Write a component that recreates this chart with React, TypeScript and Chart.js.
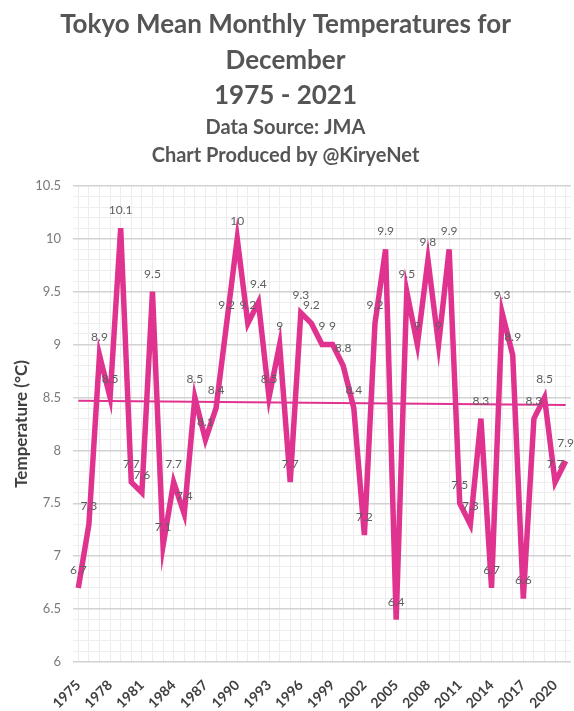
import React, { useEffect, useRef } from "react";
import { Chart, registerables } from "chart.js";

Chart.register(...registerables);

const years: string[] = [
  "1975","1976","1977","1978","1979","1980","1981","1982","1983","1984",
  "1985","1986","1987","1988","1989","1990","1991","1992","1993","1994",
  "1995","1996","1997","1998","1999","2000","2001","2002","2003","2004",
  "2005","2006","2007","2008","2009","2010","2011","2012","2013","2014",
  "2015","2016","2017","2018","2019","2020","2021",
];

const temperatures: number[] = [
  6.7, 7.3, 8.9, 8.5, 10.1, 7.7, 7.6, 9.5, 7.1, 7.7,
  7.4, 8.5, 8.1, 8.4, 9.2, 10, 9.2, 9.4, 8.5, 9,
  7.7, 9.3, 9.2, 9, 9, 8.8, 8.4, 7.2, 9.2, 9.9,
  6.4, 9.5, 9, 9.8, 9, 9.9, 7.5, 7.3, 8.3, 6.7,
  9.3, 8.9, 6.6, 8.3, 8.5, 7.7, 7.9,
];

// linear trend endpoints (first and last year)
const trendStart = 8.47;
const trendEnd = 8.43;

const titleLines = ["Tokyo Mean Monthly Temperatures for", "December", "1975 - 2021"];
const subtitleLines = ["Data Source: JMA", "Chart Produced by @KiryeNet"];

const FONT = "Lato, 'Open Sans', sans-serif";
const PINK = "#e0338f";

const labelPlugin = {
  id: "pointLabels",
  afterDatasetsDraw(chart: any) {
    const meta = chart.getDatasetMeta(0);
    const ctx = chart.ctx;
    ctx.save();
    ctx.font = `12px ${FONT}`;
    ctx.fillStyle = "#5e5e5e";
    ctx.textAlign = "center";
    ctx.textBaseline = "middle";
    meta.data.forEach((pt: any, i: number) => {
      ctx.fillText(String(temperatures[i]), pt.x, pt.y - 18);
    });
    ctx.restore();
  },
};

export default function App() {
  const ref = useRef<HTMLCanvasElement | null>(null);

  useEffect(() => {
    document.body.style.margin = "0";
    const trend: (number | null)[] = years.map((_, i) =>
      i === 0 ? trendStart : i === years.length - 1 ? trendEnd : null
    );
    const chart = new Chart(ref.current as HTMLCanvasElement, {
      type: "line",
      data: {
        labels: years,
        datasets: [
          {
            data: temperatures,
            borderColor: PINK,
            backgroundColor: PINK,
            borderWidth: 5.5,
            pointRadius: 0,
            tension: 0,
            borderJoinStyle: "miter",
          },
          {
            data: trend,
            borderColor: PINK,
            borderWidth: 2,
            pointRadius: 0,
            spanGaps: true,
          },
        ],
      },
      options: {
        animation: false,
        responsive: true,
        maintainAspectRatio: false,
        layout: { padding: { left: 0, right: 3, top: 0, bottom: 0 } },
        plugins: {
          legend: { display: false },
          tooltip: { enabled: false },
          title: {
            display: true,
            text: titleLines,
            color: "#555555",
            font: { family: FONT, size: 26, weight: "bold", lineHeight: 1.37 },
            padding: { top: 7, bottom: 0 },
          },
          subtitle: {
            display: true,
            text: subtitleLines,
            color: "#555555",
            font: { family: FONT, size: 20, weight: "bold", lineHeight: 1.4 },
            padding: { top: 0, bottom: 16 },
          },
        },
        scales: {
          x: {
            offset: true,
            grid: { color: "#ececec", lineWidth: 1, drawTicks: false },
            border: { display: false },
            ticks: {
              autoSkip: false,
              maxRotation: 45,
              minRotation: 45,
              color: "#404040",
              font: { family: FONT, size: 14, weight: "bold" },
              padding: 15,
              callback: (_v: any, i: number) => (i % 3 === 0 ? years[i] : ""),
            },
            afterFit: (s: any) => {
              s.height = 49;
              s.paddingLeft = 0;
              s.paddingRight = 0;
            },
          },
          y: {
            min: 6,
            max: 10.5,
            ticks: {
              stepSize: 0.1,
              autoSkip: false,
              color: "#7a7a7a",
              font: { family: FONT, size: 13 },
              padding: 12,
              callback: (v: any) => {
                const n = Number(v);
                const r = Math.round(n * 2) / 2;
                return Math.abs(n - r) < 1e-6 ? String(r) : "";
              },
            },
            grid: {
              drawTicks: false,
              color: (c: any) => {
                const n = c.tick ? c.tick.value : 0;
                return Math.abs(n * 2 - Math.round(n * 2)) < 1e-6 ? "#d2d2d2" : "#eeeeee";
              },
              lineWidth: (c: any) => {
                const n = c.tick ? c.tick.value : 0;
                return Math.abs(n * 2 - Math.round(n * 2)) < 1e-6 ? 1.5 : 1;
              },
            },
            border: { display: false },
            title: {
              display: true,
              text: "Temperature (°C)",
              color: "#404040",
              font: { family: FONT, size: 17, weight: "bold" },
              padding: { top: 11, bottom: 0 },
            },
            afterFit: (s: any) => {
              s.width = 73;
            },
          },
        },
      },
      plugins: [labelPlugin],
    });
    return () => chart.destroy();
  }, []);

  return (
    <div style={{ position: "fixed", left: 0, top: 0, width: 574, height: 711, background: "#fff" }}>
      <canvas ref={ref} />
    </div>
  );
}
